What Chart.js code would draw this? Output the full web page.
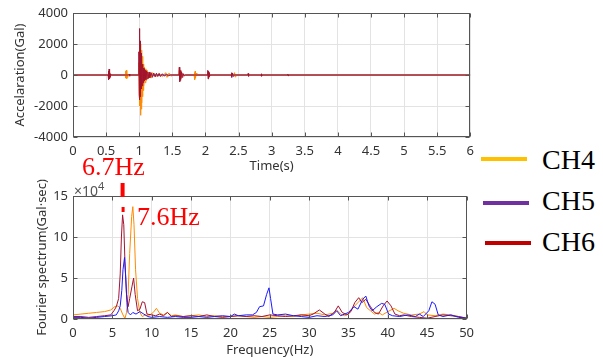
<!DOCTYPE html>
<html>
<head>
<meta charset="utf-8">
<script src="https://cdn.jsdelivr.net/npm/chart.js@4"></script>
<style>
  body { margin: 0; background: #fff; }
  #wrap { position: relative; width: 603px; height: 358px; overflow: hidden; }
  canvas { position: absolute; left: 0; }
  .note { position: absolute; font-family: "Liberation Serif", "Times New Roman", serif; white-space: nowrap; }
  .red { color: #ff0000; font-size: 26px; line-height: 26px; }
  .legText { font-size: 28px; line-height: 28px; color: #000; }
  .legLine { position: absolute; height: 4px; }
  #exp { position: absolute; left: 74px; top: 178px; font: 14px/16px "Noto Sans", sans-serif; color: #555; }
  #exp sup { font-size: 11px; }
</style>
</head>
<body>
<div id="wrap">
  <canvas id="accChart" width="480" height="175" style="top:0"></canvas>
  <canvas id="specChart" width="480" height="183" style="top:175px"></canvas>
  <div id="exp">&times;10<sup>4</sup></div>
  <div class="note red" style="left:82px; top:154px">6.7Hz</div>
  <div class="note red" style="left:137px; top:204px">7.6Hz</div>
</div>
<script>
// channel names and legend colours
const channels = ['CH4', 'CH5', 'CH6'];
const legendColors = ['#ffc000', '#7030a0', '#c00000'];
const lineColors = ['#ff8a00', '#1a1aff', '#a2142f'];

// acceleration time histories (s, Gal)
const timeCh4 = [0, 0.54, 0.545, 0.55, 0.555, 0.56, 0.57, 0.79, 0.795, 0.8, 0.805, 0.81, 0.815, 0.82, 0.83,
  0.99, 0.995, 1.0, 1.005, 1.01, 1.015, 1.02, 1.025, 1.03, 1.035, 1.04, 1.045, 1.05, 1.055, 1.06, 1.065, 1.07,
  1.08, 1.09, 1.1, 1.11, 1.12, 1.14, 1.16, 1.18, 1.2, 1.25, 1.3, 1.35, 1.4, 1.42, 1.45, 1.48, 1.5,
  1.6, 1.605, 1.61, 1.62, 1.63, 1.64, 1.65, 1.83, 1.835, 1.84, 1.845, 1.85, 1.86, 1.87,
  2.03, 2.04, 2.05, 2.06, 2.43, 2.44, 2.45, 2.46, 6];
const accCh4 = [0, 0, 150, -200, 120, -80, 0, 0, 250, -200, 300, -250, 200, -150, 0,
  0, 800, -900, 1500, -2000, 2000, -2600, 1800, -2200, 1600, -1800, 1200, -1400, 900, -1000, 700, -700,
  500, -500, 400, -350, 300, -250, 200, -200, 150, -120, 100, -100, 150, -150, 120, -80, 0,
  0, 300, -300, 250, -200, 100, 0, 0, 150, -300, 250, -200, 120, 0,
  0, 150, -150, 0, 0, 150, -120, 0, 0];

const timeCh5 = [0, 1.0, 1.005, 1.01, 1.02, 1.03, 1.04, 1.05, 1.06, 1.07, 1.08, 1.6, 1.61, 1.62, 1.63,
  2.4, 2.41, 2.42, 2.43, 6];
const accCh5 = [0, 0, 300, -300, 250, -200, 150, -100, 250, -100, 0, 0, 100, -100, 0,
  0, 100, -80, 0, 0];

const timeCh6 = [0, 0.53, 0.535, 0.54, 0.545, 0.55, 0.555, 0.56, 0.565, 0.575, 0.84, 0.85, 0.855, 0.86,
  0.99, 0.995, 1.0, 1.003, 1.006, 1.009, 1.012, 1.015, 1.018, 1.021, 1.024, 1.027, 1.03, 1.033, 1.036,
  1.04, 1.044, 1.048, 1.052, 1.056, 1.06, 1.065, 1.07, 1.075, 1.08, 1.09, 1.1, 1.11, 1.12, 1.13, 1.14,
  1.15, 1.16, 1.18, 1.2, 1.22, 1.24, 1.26, 1.28, 1.3, 1.32, 1.35, 1.38, 1.41, 1.44, 1.47,
  1.6, 1.605, 1.61, 1.615, 1.62, 1.625, 1.63, 1.64, 1.65, 1.66, 1.68, 1.7,
  2.03, 2.035, 2.04, 2.045, 2.05, 2.055, 2.06, 2.07, 2.39, 2.395, 2.4, 2.405, 2.41,
  2.64, 2.645, 2.65, 2.655, 2.84, 2.845, 2.85, 2.855, 3.24, 3.245, 3.25, 3.255, 6];
const accCh6 = [0, 0, 250, -300, 380, -250, 200, -150, 80, 0, 0, 60, -80, 0,
  0, 1500, -1300, 3000, -1600, 2600, -1400, 2200, -1200, 1800, -1000, 1400, -900, 1100, -800,
  900, -700, 700, -600, 550, -500, 450, -400, 400, -350, 300, -300, 250, -250, 200, -200,
  180, -180, 150, -150, 130, -120, 120, -100, 100, -100, 80, -80, 60, -50, 0,
  0, 500, -450, 400, -350, 300, -250, 200, -150, 100, -60, 0,
  0, 300, -250, 250, -200, 150, -100, 0, 0, 150, -150, 100, 0,
  0, 100, -100, 0, 0, 80, -80, 0, 0, 60, -60, 0, 0];

// Fourier spectra (Hz, x10^4 Gal*sec)
const freqCh4 = [0, 1, 2, 3, 4, 4.8, 5.3, 5.7, 6.0, 6.3, 6.6, 6.8, 7.0, 7.2, 7.45, 7.6, 7.75, 7.95, 8.2, 8.5,
  8.8, 9.2, 9.6, 10.2, 10.6, 11, 11.5, 12, 12.5, 13, 14, 15, 16, 17, 18, 19, 20, 21, 22, 23, 24, 25, 26, 27,
  28, 29, 30, 31, 32, 33, 33.5, 34, 34.5, 35, 35.6, 36.2, 36.8, 37.3, 37.8, 38.3, 38.8, 39.3, 40, 40.8, 41.3,
  42, 43, 44, 44.6, 45, 46, 47, 48, 49, 50];
const specCh4 = [0.5, 0.6, 0.7, 0.8, 0.9, 1.1, 1.5, 1.6, 1.3, 0.6, 0.05, 0.8, 3.0, 8.0, 12.5, 13.7, 11.5, 6.0, 2.5, 0.8,
  0.3, 0.5, 0.4, 0.8, 1.3, 0.7, 0.5, 0.8, 0.4, 0.5, 0.3, 0.4, 0.5, 0.3, 0.4, 0.3, 0.3, 0.4, 0.3, 0.2, 0.3, 0.2, 0.3, 0.4,
  0.3, 0.5, 0.6, 0.7, 0.5, 0.7, 1.1, 0.6, 0.4, 0.6, 1.4, 2.0, 2.6, 1.4, 1.0, 0.6, 0.8, 0.5, 0.9, 1.3, 1.0,
  0.7, 0.5, 0.6, 0.9, 0.5, 0.4, 0.6, 0.5, 0.3, 0.1];

const freqCh5 = [0, 1, 2, 3, 4, 5, 5.5, 5.8, 6.0, 6.2, 6.35, 6.55, 6.7, 6.85, 7.0, 7.3, 7.6, 8.0, 8.5, 9.0, 9.5,
  10, 11, 12, 13, 14, 15, 16, 17, 18, 19, 20, 20.5, 21, 22, 22.8, 23.3, 23.7, 24.2, 24.6, 24.9, 25.1, 25.4,
  26, 27, 28, 29, 30, 31, 32, 33, 33.5, 34, 35, 35.7, 36.2, 36.8, 37.2, 37.6, 38, 38.6, 39.2, 39.6, 40.1,
  40.6, 41.5, 42.5, 43.5, 44, 44.5, 45.2, 45.6, 46, 46.4, 47, 48, 49, 50];
const specCh5 = [0.2, 0.2, 0.1, 0.2, 0.3, 0.4, 0.5, 1.0, 1.6, 3.5, 6.0, 7.5, 5.0, 2.0, 0.8, 0.5, 0.8, 0.6, 0.9, 0.6, 0.3,
  0.2, 0.3, 0.2, 0.3, 0.2, 0.2, 0.3, 0.2, 0.3, 0.4, 0.3, 0.6, 0.4, 0.5, 0.5, 0.8, 1.5, 1.6, 3.0, 3.8, 2.5, 0.6,
  0.5, 0.6, 0.4, 0.3, 0.2, 0.4, 0.3, 0.5, 1.0, 0.4, 0.8, 1.5, 1.2, 2.4, 2.8, 1.6, 1.0, 1.5, 1.9, 1.8, 0.6,
  0.4, 0.3, 0.5, 0.3, 0.6, 0.3, 1.0, 2.1, 1.8, 0.5, 0.3, 0.5, 0.2, 0.1];

const freqCh6 = [0, 1, 2, 3, 4, 4.8, 5.2, 5.5, 5.8, 6.0, 6.15, 6.3, 6.45, 6.6, 6.8, 7.0, 7.2, 7.5, 7.7, 7.9, 8.2,
  8.5, 8.8, 9.1, 9.4, 10, 10.5, 11, 11.5, 12, 12.5, 13, 14, 15, 16, 17, 18, 19, 20, 21, 22, 23, 24, 25, 26,
  27, 28, 29, 30, 30.5, 31.3, 32, 32.5, 33.2, 33.7, 34.2, 34.8, 35.3, 35.8, 36.3, 36.7, 37.2, 37.8, 38.3,
  38.8, 39.4, 39.9, 40.4, 40.9, 41.5, 42, 43, 44, 45, 46, 47, 48, 49, 50];
const specCh6 = [0.3, 0.3, 0.2, 0.3, 0.4, 0.5, 1.0, 1.5, 2.5, 5.5, 10.0, 12.7, 11.5, 7.0, 3.0, 1.5, 2.5, 4.0, 5.0, 3.0, 1.0,
  1.2, 2.1, 2.0, 0.6, 0.5, 0.4, 0.6, 0.4, 0.8, 0.3, 0.4, 0.3, 0.4, 0.3, 0.5, 0.3, 0.2, 0.3, 0.4, 0.3, 0.4, 0.3, 0.5, 0.4,
  0.3, 0.4, 0.5, 0.4, 0.6, 1.1, 0.6, 0.3, 0.8, 1.6, 0.8, 0.5, 0.9, 2.0, 2.6, 2.0, 2.4, 1.5, 0.8,
  0.6, 1.6, 2.2, 1.6, 0.6, 0.4, 0.5, 0.3, 0.2, 0.1, 0.3, 0.5, 0.4, 0.3, 0.1];

// frequency of the marked peak
const markFreq = 6.3;

const toPoints = (xs, ys) => xs.map((x, i) => ({ x: x, y: ys[i] }));
const tickFont = { family: 'Noto Sans', size: 13 };
const textColor = '#333';

// box round the plot area with inward ticks
const boxPlugin = {
  id: 'box',
  afterDatasetsDraw(chart) {
    const { ctx, chartArea: a, scales } = chart;
    const l = Math.round(a.left) + 0.5, r = Math.round(a.right) - 0.5;
    const t = Math.round(a.top) + 0.5, b = Math.round(a.bottom) - 0.5;
    ctx.save();
    ctx.strokeStyle = '#555';
    ctx.lineWidth = 1;
    ctx.beginPath();
    scales.x.ticks.forEach(tk => {
      const px = Math.round(scales.x.getPixelForValue(tk.value)) + 0.5;
      ctx.moveTo(px, t); ctx.lineTo(px, t + 4);
      ctx.moveTo(px, b); ctx.lineTo(px, b - 4);
    });
    scales.y.ticks.forEach(tk => {
      const py = Math.round(scales.y.getPixelForValue(tk.value)) + 0.5;
      ctx.moveTo(l, py); ctx.lineTo(l + 4, py);
      ctx.moveTo(r, py); ctx.lineTo(r - 4, py);
    });
    ctx.stroke();
    ctx.strokeRect(l, t, r - l, b - t);
    ctx.restore();
  }
};

// red marker above the spectrum peak
const markPlugin = {
  id: 'mark',
  afterDraw(chart) {
    const { ctx, chartArea: a, scales } = chart;
    const px = scales.x.getPixelForValue(markFreq);
    ctx.save();
    ctx.fillStyle = '#ff0000';
    ctx.fillRect(px - 2, a.top - 13, 4, 14);
    ctx.fillRect(px - 1, a.top + 11, 3, 5);
    ctx.restore();
  }
};

function makeOptions(xMin, xMax, xStep, yMin, yMax, yStep, xTitle, yTitle, yTitlePad, xHeight, pad) {
  return {
    responsive: false,
    animation: false,
    layout: { padding: pad },
    plugins: { legend: { display: false }, tooltip: { enabled: false } },
    elements: { point: { radius: 0 }, line: { borderWidth: 1, tension: 0 } },
    scales: {
      x: {
        type: 'linear', min: xMin, max: xMax,
        grid: { color: '#e3e3e3', drawTicks: false },
        border: { display: false },
        ticks: { stepSize: xStep, padding: 6, color: textColor, font: tickFont, maxRotation: 0,
          callback: v => String(v) },
        title: { display: true, text: xTitle, color: textColor, font: tickFont, padding: { top: 0, bottom: xTitle === 'Time(s)' ? 1 : 0 } },
        afterFit: s => { s.height = xHeight; }
      },
      y: {
        min: yMin, max: yMax,
        grid: { color: '#e3e3e3', drawTicks: false },
        border: { display: false },
        ticks: { stepSize: yStep, padding: 5, color: textColor, font: tickFont, callback: v => String(v) },
        title: { display: true, text: yTitle, color: textColor, font: tickFont, padding: { top: yTitlePad, bottom: 0 } },
        afterFit: s => { s.width = 73; }
      }
    }
  };
}

const accData = [toPoints(timeCh4, accCh4), toPoints(timeCh5, accCh5), toPoints(timeCh6, accCh6)];
new Chart(document.getElementById('accChart'), {
  type: 'line',
  data: {
    datasets: channels.map((name, i) => ({
      label: name, data: accData[i], borderColor: lineColors[i], order: [1, 2, 0][i]
    }))
  },
  options: makeOptions(0, 6, 0.5, -4000, 4000, 2000, 'Time(s)', 'Accelaration(Gal)', 12, 38,
    { top: 13, right: 8, left: 0, bottom: 0 }),
  plugins: [boxPlugin]
});

const specData = [toPoints(freqCh4, specCh4), toPoints(freqCh5, specCh5), toPoints(freqCh6, specCh6)];
new Chart(document.getElementById('specChart'), {
  type: 'line',
  data: {
    datasets: channels.map((name, i) => ({
      label: name, data: specData[i], borderColor: lineColors[i], order: [2, 0, 1][i]
    }))
  },
  options: makeOptions(0, 50, 5, 0, 15, 5, 'Frequency(Hz)', 'Fourier spectrum(Gal\u00b7sec)', 34, 39,
    { top: 21, right: 8, left: 0, bottom: 0 }),
  plugins: [boxPlugin, markPlugin]
});

// legend beside the charts
const wrap = document.getElementById('wrap');
const legendLineX = [481, 483, 485];
const legendLineY = [157, 201, 241];
const legendTextY = [146, 187, 228];
channels.forEach((name, i) => {
  const line = document.createElement('div');
  line.className = 'legLine';
  line.style.cssText = `left:${legendLineX[i]}px; top:${legendLineY[i]}px; width:46px; background:${legendColors[i]}`;
  wrap.appendChild(line);
  const txt = document.createElement('div');
  txt.className = 'note legText';
  txt.style.cssText = `left:542px; top:${legendTextY[i]}px`;
  txt.textContent = name;
  wrap.appendChild(txt);
});
</script>
</body>
</html>
